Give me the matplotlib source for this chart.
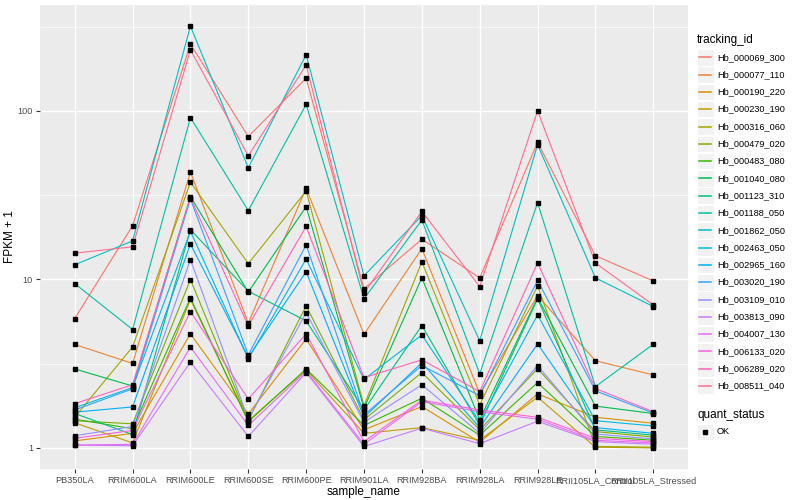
import numpy as np
import matplotlib.pyplot as plt
from matplotlib.patches import Rectangle

plt.rcParams['font.family'] = ['Liberation Sans', 'DejaVu Sans']

# donnees (FPKM + 1)
samples = ['PB350LA', 'RRIM600LA', 'RRIM600LE', 'RRIM600SE', 'RRIM600PE',
           'RRIM901LA', 'RRIM928BA', 'RRIM928LA', 'RRIM928LE',
           'RRII105LA_Control', 'RRII105LA_Stressed']

genes = ['Hb_000069_300', 'Hb_000077_110', 'Hb_000190_220', 'Hb_000230_190',
         'Hb_000316_060', 'Hb_000479_020', 'Hb_000483_080', 'Hb_001040_080',
         'Hb_001123_310', 'Hb_001188_050', 'Hb_001862_050', 'Hb_002463_050',
         'Hb_002965_160', 'Hb_003020_190', 'Hb_003109_010', 'Hb_003813_090',
         'Hb_004007_130', 'Hb_006133_020', 'Hb_006289_020', 'Hb_008511_040']

colors = ['#F8766D', '#EA8331', '#D89000', '#C09B00', '#A3A500', '#7CAE00',
          '#39B600', '#00BB4E', '#00BF7D', '#00C1A3', '#00BFC4', '#00BAE0',
          '#00B0F6', '#35A2FF', '#9590FF', '#C77CFF', '#E76BF3', '#FA62DB',
          '#FF62BC', '#FF6C91']

hb_000069_300 = [5.85, 20.8, 249, 70.3, 156, 8.8, 17.3, 10.2, 65, 13.8, 9.78]
hb_000077_110 = [4.11, 3.17, 43.3, 5.5, 34.7, 4.72, 15.2, 2.1, 8.0, 3.29, 2.71]
hb_000190_220 = [1.10, 1.22, 4.75, 1.59, 4.43, 1.28, 1.76, 1.08, 2.09, 1.52, 1.40]
hb_000230_190 = [1.41, 1.07, 7.6, 1.45, 2.90, 1.22, 1.32, 1.11, 2.0, 1.01, 1.0]
hb_000316_060 = [1.52, 3.97, 37.7, 12.4, 33.4, 1.78, 12.7, 1.8, 9.13, 1.02, 1.01]
hb_000479_020 = [1.45, 1.39, 9.97, 1.46, 6.96, 1.47, 2.8, 1.28, 2.95, 1.25, 1.16]
hb_000483_080 = [1.48, 1.30, 7.77, 1.43, 2.94, 1.36, 1.97, 1.19, 2.44, 1.17, 1.11]
hb_001040_080 = [2.94, 2.33, 31, 8.4, 27, 1.72, 10.2, 1.47, 7.8, 1.77, 1.60]
hb_001123_310 = [1.6, 1.20, 19.7, 8.5, 5.67, 1.68, 5.32, 1.36, 7.67, 1.28, 1.19]
hb_001188_050 = [9.44, 5.04, 91, 25.6, 109, 7.67, 22.5, 2.75, 28.5, 2.31, 4.12]
hb_001862_050 = [12.2, 16.9, 318, 45.9, 215, 10.5, 23.9, 4.32, 63, 10.2, 6.9]
hb_002463_050 = [1.73, 2.28, 19.3, 3.37, 13.2, 2.55, 4.68, 1.43, 6.15, 1.45, 1.35]
hb_002965_160 = [1.63, 1.75, 16.2, 3.45, 11.1, 1.52, 3.2, 1.32, 4.14, 1.32, 1.22]
hb_003020_190 = [1.68, 2.24, 30, 3.56, 16.0, 1.57, 3.08, 2.04, 9.85, 2.18, 1.61]
hb_003109_010 = [1.18, 1.34, 13.1, 1.48, 6.35, 1.42, 2.37, 1.22, 3.08, 1.21, 1.13]
hb_003813_090 = [1.04, 1.03, 3.23, 1.17, 2.80, 1.02, 1.31, 1.06, 1.44, 1.09, 1.05]
hb_004007_130 = [1.04, 1.05, 3.96, 1.36, 2.85, 1.05, 1.88, 1.64, 1.48, 1.11, 1.07]
hb_006133_020 = [1.14, 1.27, 6.44, 1.95, 4.75, 1.09, 1.92, 1.68, 1.52, 1.14, 1.09]
hb_006289_020 = [1.83, 2.37, 30.5, 5.3, 20.6, 2.61, 3.33, 2.16, 12.5, 2.25, 1.64]
hb_008511_040 = [14.3, 15.6, 230, 54, 187, 8.3, 25.3, 9.06, 100, 12.5, 7.05]

series = [hb_000069_300, hb_000077_110, hb_000190_220, hb_000230_190,
          hb_000316_060, hb_000479_020, hb_000483_080, hb_001040_080,
          hb_001123_310, hb_001188_050, hb_001862_050, hb_002463_050,
          hb_002965_160, hb_003020_190, hb_003109_010, hb_003813_090,
          hb_004007_130, hb_006133_020, hb_006289_020, hb_008511_040]

fig = plt.figure(figsize=(8, 5), dpi=100)
ax = fig.add_axes([40 / 800, 31 / 500, 648 / 800, 464 / 500])
ax.set_facecolor('#EBEBEB')

x = np.arange(1, len(samples) + 1)
for vals, col in zip(series, colors):
    ax.plot(x, vals, color=col, lw=0.8, zorder=3)
for vals in series:
    ax.plot(x, vals, 's', color='black', ms=2.2, zorder=4)

ax.set_yscale('log')
allv = np.concatenate([np.array(s) for s in series])
lo, hi = np.log10(allv.min()), np.log10(allv.max())
pad = 0.05 * (hi - lo)
ax.set_ylim(10 ** (lo - pad), 10 ** (hi + pad))
ax.set_xlim(0.4, len(samples) + 0.6)

ax.set_yticks([1, 10, 100])
ax.set_yticklabels(['1', '10', '100'])
ax.set_yticks([10 ** 0.5, 10 ** 1.5, 10 ** 2.5], minor=True)
ax.yaxis.set_minor_formatter(plt.NullFormatter())
ax.set_xticks(x)
ax.set_xticklabels(samples)
ax.grid(True, which='major', color='white', lw=1.0, zorder=1)
ax.grid(True, which='minor', axis='y', color='white', lw=0.5, zorder=1)
ax.set_axisbelow(True)
for s in ax.spines.values():
    s.set_visible(False)
ax.tick_params(which='major', length=3, color='#333333', labelsize=6.6,
               labelcolor='#4D4D4D', pad=2)
ax.tick_params(which='minor', length=0)
ax.set_xlabel('sample_name', fontsize=8.5, labelpad=1)
ax.set_ylabel('FPKM + 1', fontsize=8.5, labelpad=1)

# legende facon ggplot, en coordonnees pixel
lg = fig.add_axes([0, 0, 1, 1], facecolor='none')
lg.set_xlim(0, 800)
lg.set_ylim(500, 0)
lg.axis('off')
lg.text(697, 40, 'tracking_id', fontsize=8.5, va='center', ha='left')
for i, (g, col) in enumerate(zip(genes, colors)):
    yc = 57.3 + i * 17.3
    lg.add_patch(Rectangle((697, yc - 8.3), 16.6, 16.6, facecolor='#F2F2F2',
                           edgecolor='white', lw=0.8, zorder=1))
    lg.plot([699, 711], [yc, yc], color=col, lw=1.1, zorder=3)
    lg.text(717, yc, g, fontsize=6.6, va='center', ha='left')
lg.text(697, 415, 'quant_status', fontsize=8.5, va='center', ha='left')
lg.add_patch(Rectangle((697, 423.7), 16.6, 16.6, facecolor='#F2F2F2',
                       edgecolor='white', lw=0.8, zorder=1))
lg.plot([705], [432], 's', color='black', ms=2.2, zorder=3)
lg.text(717, 432, 'OK', fontsize=6.6, va='center', ha='left')

fig.savefig('out.png', dpi=100)
